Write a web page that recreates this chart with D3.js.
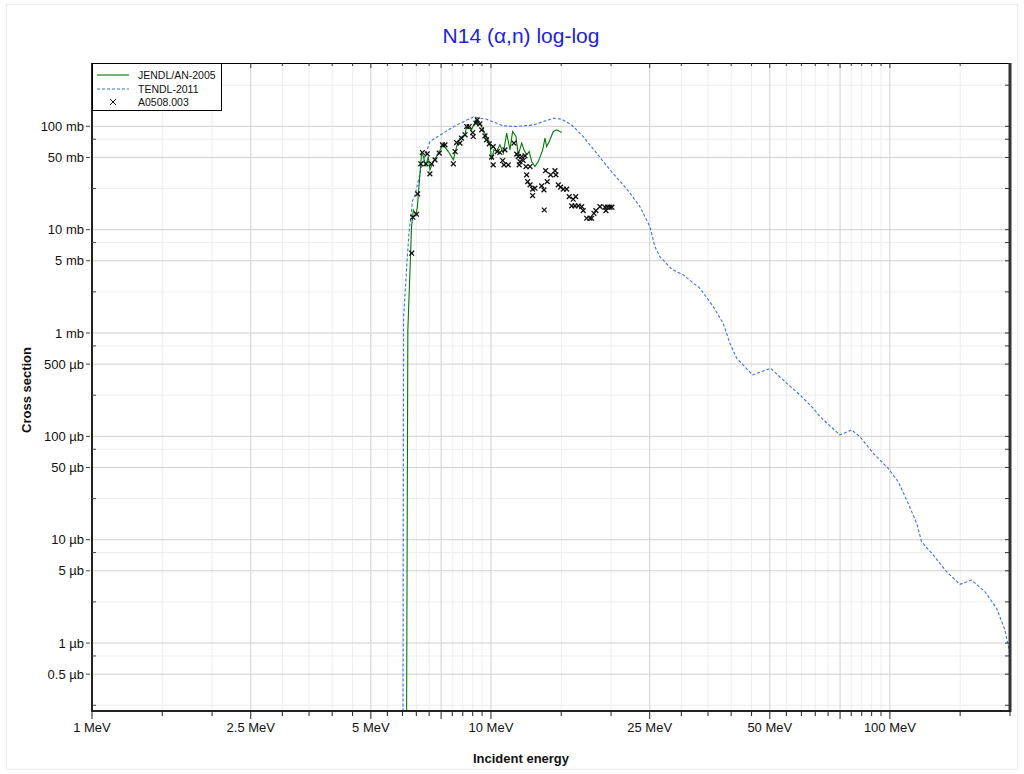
<!DOCTYPE html>
<html>
<head>
<meta charset="utf-8">
<script src="https://cdn.jsdelivr.net/npm/d3@7"></script>
<style>
  body { margin: 0; background: #fff; }
  svg { display: block; font-family: "Liberation Sans", Arial, sans-serif; }
</style>
</head>
<body>
<svg id="chart" width="1024" height="774"></svg>
<script>
// Axis domains: incident energy (MeV) and cross section (mb)
const energyDomain = [1, 200];
const xsDomain = [2.2e-4, 410];

// TENDL-2011 evaluation (MeV, mb)
const tendlEnergy = [6.02, 6.04, 6.15, 6.23, 6.36, 6.45, 6.70, 7.03, 7.59, 8.20, 9.03, 9.75, 10.74, 11.6, 12.76,
  13.52, 14.33, 15.04, 15.94, 17.03, 18.4, 19.88, 21.46, 22.3, 23.63, 25.03, 25.76, 26.52, 28.38, 30.34,
  33.41, 36.07, 38.21, 39.72, 41.28, 45.29, 50.23, 55.09, 59.49, 64.25, 66.77, 74.94, 80.17, 84.11, 90.82,
  99.0, 104.9, 111.1, 116.7, 120.1, 128.4, 138.7, 149.8, 160.2, 173.1, 185.1, 194.2, 200];
const tendlXs = [1e-4, 1.4, 4.4, 9.3, 19.0, 21.5, 40.8, 71.3, 85.9, 103, 123, 117, 101, 99.6, 103,
  111, 120, 117, 103, 79.7, 55.0, 37.9, 27.1, 22.6, 16.7, 10.7, 6.86, 5.49, 4.15, 3.65,
  2.71, 1.80, 1.24, 0.796, 0.570, 0.393, 0.456, 0.327, 0.252, 0.187, 0.155, 0.1032, 0.1153, 0.0993, 0.0686,
  0.0491, 0.0364, 0.0225, 0.0144, 0.00956, 0.00711, 0.0049, 0.0037, 0.00407, 0.00314, 0.00217, 0.00134, 0.00078];

// JENDL/AN-2005 evaluation (MeV, mb)
const jendlEnergy = [6.13, 6.19, 6.29, 6.32, 6.39, 6.49, 6.54, 6.61, 6.70, 6.77, 6.87, 6.96, 7.03, 7.17, 7.38,
  7.59, 7.82, 8.05, 8.20, 8.36, 8.61, 8.69, 8.94, 9.17, 9.29, 9.38, 9.56, 9.75, 9.94, 10.04,
  10.17, 10.33, 10.53, 10.74, 10.95, 11.16, 11.33, 11.55, 11.71, 11.94, 12.10, 12.29, 12.47, 12.65, 12.89,
  13.14, 13.48, 13.66, 13.79, 14.0, 14.33, 14.61, 15.04];
const jendlXs = [1e-5, 1.07, 5.96, 10.4, 15.5, 13.9, 16.6, 28.2, 55.0, 51.0, 40.8, 51.0, 37.9, 45.6, 55.0,
  66.2, 57.0, 47.4, 63.7, 76.9, 82.8, 99.6, 92.5, 115.6, 103.4, 107.4, 92.5, 79.7, 68.8, 47.4,
  59.2, 57.0, 66.2, 55.0, 85.9, 59.2, 89.1, 79.7, 53.0, 68.8, 59.2, 53.0, 57.0, 45.6, 40.8,
  45.6, 59.2, 76.9, 63.7, 71.3, 89.1, 92.5, 87.1];

// EXFOR A0508.003 measurements (MeV, mb)
const exforEnergy = [6.33, 6.37, 6.51, 6.55, 6.73, 6.92, 6.67, 6.87, 7.10, 7.03, 7.24, 7.42, 7.56, 7.67, 8.05,
  8.13, 8.20, 8.36, 8.44, 8.61, 8.69, 8.82, 9.00, 9.03, 9.17, 9.24, 9.38, 9.48, 9.66, 9.75,
  9.90, 10.13, 10.04, 10.13, 10.37, 10.53, 10.70, 10.78, 10.84, 11.05, 11.42, 11.60, 11.71, 11.94, 11.77,
  11.82, 12.05, 12.17, 12.29, 12.36, 12.53, 12.72, 12.89, 12.72, 12.24, 12.53, 13.40, 13.58, 13.84, 13.71,
  14.11, 14.47, 14.55, 13.60, 14.75, 14.95, 15.18, 15.48, 15.71, 16.08, 15.94, 16.31, 16.24, 16.55, 16.88,
  17.03, 17.37, 17.70, 17.88, 18.12, 18.33, 18.76, 19.31, 19.88, 19.42, 19.60, 20.1];
const exforXs = [5.92, 13.2, 14.1, 22.2, 55.8, 54.2, 43.4, 43.4, 43.4, 34.7, 47.4, 55.0, 66.2, 66.2, 43.4,
  57.0, 69.7, 68.8, 76.9, 82.8, 99.6, 99.6, 87.1, 79.7, 107.4, 115.6, 105.7, 92.5, 80.9, 74.0,
  67.7, 63.7, 50.3, 42.4, 57.0, 55.8, 46.7, 42.4, 59.2, 42.4, 68.8, 53.8, 51.0, 51.0, 42.4,
  45.6, 46.7, 51.8, 33.9, 29.2, 27.1, 24.7, 25.2, 21.4, 40.8, 40.8, 26.5, 24.3, 29.2, 37.3,
  33.9, 37.3, 33.9, 15.5, 27.1, 25.8, 24.7, 24.7, 20.9, 19.7, 17.0, 20.9, 17.0, 17.0, 16.7,
  15.3, 12.9, 12.9, 12.9, 14.4, 15.3, 16.7, 16.5, 16.5, 15.3, 16.5, 16.5];

// Axis tick values
const xLabelTicks = [1, 2.5, 5, 10, 25, 50, 100];
const xMajorTicks = [1, 2.5, 5, 7.5, 10, 25, 50, 75, 100];
const xTickValues = d3.range(1, 10, 0.5).concat(d3.range(10, 100, 5), d3.range(100, 201, 50));
const yDecades = [1e-4, 1e-3, 1e-2, 1e-1, 1, 10, 100];
const yMajorMult = [1, 5];
const yMinorMult = [2.5, 7.5];

const series = [
  { name: "JENDL/AN-2005", color: "#007a00", dash: null },
  { name: "TENDL-2011", color: "#3a6fe6", dash: "3,2" },
  { name: "A0508.003", color: "#000" }
];

const svg = d3.select("#chart");
const L = 92, R = 1010, T = 63, B = 711;

const x = d3.scaleLog().domain(energyDomain).range([L, R]);
const y = d3.scaleLog().domain(xsDomain).range([B, T]);

const inY = v => v >= xsDomain[0] && v <= xsDomain[1];
const yMajor = [], yMinor = [];
yDecades.forEach(d => {
  yMajorMult.forEach(m => { const v = +(d * m).toPrecision(6); if (inY(v)) yMajor.push(v); });
  yMinorMult.forEach(m => { const v = +(d * m).toPrecision(6); if (inY(v)) yMinor.push(v); });
});

// page frame
svg.append("rect").attr("x", 6.5).attr("y", 4.5).attr("width", 1011).attr("height", 765)
  .attr("fill", "none").attr("stroke", "#ececec");

// title
svg.append("text").attr("x", 521).attr("y", 43).attr("text-anchor", "middle")
  .attr("font-size", 21).attr("fill", "#1c24d8").text("N14 (α,n) log-log");

// grid
const grid = svg.append("g");
const xMinorOnly = xTickValues.filter(v => !xMajorTicks.includes(v) && v > 1 && v < 200);
grid.selectAll(".vmin").data(xMinorOnly).join("line")
  .attr("x1", d => x(d)).attr("x2", d => x(d)).attr("y1", T).attr("y2", B)
  .attr("stroke", "#ededed").attr("stroke-width", 1);
grid.selectAll(".hmin").data(yMinor).join("line")
  .attr("x1", L).attr("x2", R).attr("y1", d => y(d)).attr("y2", d => y(d))
  .attr("stroke", "#ededed").attr("stroke-width", 1);
grid.selectAll(".vmaj").data(xMajorTicks.filter(v => v > 1)).join("line")
  .attr("x1", d => x(d)).attr("x2", d => x(d)).attr("y1", T).attr("y2", B)
  .attr("stroke", "#d0d0d0").attr("stroke-width", 1);
grid.selectAll(".hmaj").data(yMajor).join("line")
  .attr("x1", L).attr("x2", R).attr("y1", d => y(d)).attr("y2", d => y(d))
  .attr("stroke", "#d0d0d0").attr("stroke-width", 1);

// clip for data
svg.append("clipPath").attr("id", "plotclip").append("rect")
  .attr("x", L).attr("y", T).attr("width", R - L).attr("height", B - T);
const plot = svg.append("g").attr("clip-path", "url(#plotclip)");

const line = d3.line().x(d => x(d[0])).y(d => y(d[1]));

plot.append("path")
  .attr("d", line(tendlEnergy.map((e, i) => [e, tendlXs[i]])))
  .attr("fill", "none").attr("stroke", series[1].color).attr("stroke-width", 1.1)
  .attr("stroke-dasharray", series[1].dash);

plot.append("path")
  .attr("d", line(jendlEnergy.map((e, i) => [e, jendlXs[i]])))
  .attr("fill", "none").attr("stroke", series[0].color).attr("stroke-width", 1.1);

const cross = s => `M${-s},${-s}L${s},${s}M${-s},${s}L${s},${-s}`;
plot.selectAll(".pt").data(exforEnergy.map((e, i) => [e, exforXs[i]])).join("path")
  .attr("transform", d => `translate(${x(d[0])},${y(d[1])})`)
  .attr("d", cross(2.4)).attr("fill", "none").attr("stroke", "#111").attr("stroke-width", 1.3);

// axes frame
svg.append("line").attr("x1", L).attr("x2", R).attr("y1", T + 0.5).attr("y2", T + 0.5)
  .attr("stroke", "#000").attr("stroke-width", 1);
svg.append("line").attr("x1", R).attr("x2", R).attr("y1", T).attr("y2", B + 1)
  .attr("stroke", "#333").attr("stroke-width", 3);
svg.append("line").attr("x1", L).attr("x2", L).attr("y1", T).attr("y2", B + 1)
  .attr("stroke", "#222").attr("stroke-width", 2);
svg.append("line").attr("x1", L - 1).attr("x2", R + 1).attr("y1", B).attr("y2", B)
  .attr("stroke", "#222").attr("stroke-width", 2);

// x ticks: bottom (outward) and top (inward)
const xt = xTickValues.filter(v => v >= energyDomain[0] && v <= energyDomain[1]);
svg.selectAll(".xtb").data(xt).join("line")
  .attr("x1", d => x(d)).attr("x2", d => x(d)).attr("y1", B)
  .attr("y2", d => B + (xMajorTicks.includes(d) ? 8 : 5))
  .attr("stroke", "#222").attr("stroke-width", 1);
svg.selectAll(".xtt").data(xt).join("line")
  .attr("x1", d => x(d)).attr("x2", d => x(d)).attr("y1", T)
  .attr("y2", d => T + (xMajorTicks.includes(d) ? 5 : 3))
  .attr("stroke", "#333").attr("stroke-width", 1);
svg.selectAll(".xl").data(xLabelTicks).join("text")
  .attr("x", d => x(d)).attr("y", 732).attr("text-anchor", "middle")
  .attr("font-size", 13).attr("fill", "#111").text(d => `${d} MeV`);

// y ticks: left (major outward, minor inward) and right (inward)
svg.selectAll(".ytl").data(yMajor).join("line")
  .attr("x1", L - 6).attr("x2", L - 2).attr("y1", d => y(d)).attr("y2", d => y(d))
  .attr("stroke", "#444").attr("stroke-width", 1);
svg.selectAll(".ytlm").data(yMinor).join("line")
  .attr("x1", L).attr("x2", L + 4).attr("y1", d => y(d)).attr("y2", d => y(d))
  .attr("stroke", "#444").attr("stroke-width", 1);
svg.selectAll(".ytr").data(yMajor.concat(yMinor)).join("line")
  .attr("x1", R - 5).attr("x2", R).attr("y1", d => y(d)).attr("y2", d => y(d))
  .attr("stroke", "#333").attr("stroke-width", 1);
const fmtY = v => v >= 1 ? `${v} mb` : `${+(v * 1000).toPrecision(3)} µb`;
svg.selectAll(".yl").data(yMajor).join("text")
  .attr("x", 84).attr("y", d => y(d)).attr("dy", "0.36em").attr("text-anchor", "end")
  .attr("font-size", 13).attr("fill", "#111").text(fmtY);

// axis titles
svg.append("text").attr("x", 521).attr("y", 763).attr("text-anchor", "middle")
  .attr("font-size", 13).attr("font-weight", "bold").attr("fill", "#111").text("Incident energy");
svg.append("text").attr("transform", "translate(31,390) rotate(-90)").attr("text-anchor", "middle")
  .attr("font-size", 13).attr("font-weight", "bold").attr("fill", "#111").text("Cross section");

// legend
const lg = svg.append("g");
lg.append("rect").attr("x", 92.5).attr("y", 63.5).attr("width", 129).attr("height", 47)
  .attr("fill", "#fff").attr("stroke", "#000").attr("stroke-width", 1);
const rows = [75, 89, 102];
lg.append("line").attr("x1", 97).attr("x2", 129).attr("y1", rows[0]).attr("y2", rows[0])
  .attr("stroke", series[0].color).attr("stroke-width", 1.1);
lg.append("line").attr("x1", 97).attr("x2", 129).attr("y1", rows[1]).attr("y2", rows[1])
  .attr("stroke", series[1].color).attr("stroke-width", 1.1).attr("stroke-dasharray", series[1].dash);
lg.append("path").attr("transform", `translate(113,${rows[2]})`).attr("d", cross(3))
  .attr("fill", "none").attr("stroke", "#111").attr("stroke-width", 1);
lg.selectAll(".lt").data(series).join("text")
  .attr("x", 138).attr("y", (d, i) => rows[i]).attr("dy", "0.35em")
  .attr("font-size", 10.5).attr("fill", "#111").text(d => d.name);
</script>
</body>
</html>
